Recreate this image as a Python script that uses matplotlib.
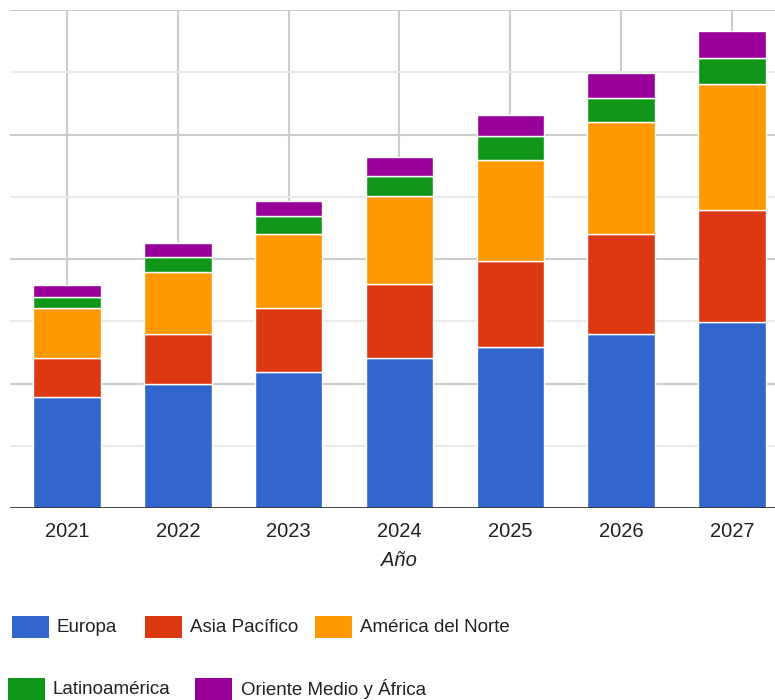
"""
Stacked bars by region, 2021-2027 (Google Charts look)
"""
import matplotlib
matplotlib.use("Agg")
import matplotlib.pyplot as plt
from matplotlib.patches import Rectangle

years = ["2021", "2022", "2023", "2024", "2025", "2026", "2027"]
europa = [1.78, 1.99, 2.19, 2.41, 2.59, 2.80, 2.99]
asia_pacifico = [0.63, 0.80, 1.02, 1.19, 1.38, 1.60, 1.80]
america_norte = [0.80, 1.00, 1.19, 1.41, 1.62, 1.80, 2.02]
latinoamerica = [0.18, 0.24, 0.29, 0.32, 0.38, 0.38, 0.42]
oriente_africa = [0.19, 0.23, 0.24, 0.31, 0.34, 0.41, 0.43]

series_names = ["Europa", "Asia Pacífico", "América del Norte",
                "Latinoamérica", "Oriente Medio y África"]
colors = ["#3366cc", "#dc3912", "#ff9900", "#109618", "#990099"]

plt.rcParams['font.family'] = ['Liberation Sans', 'DejaVu Sans']
W, H = 775, 700
fig = plt.figure(figsize=(W / 100, H / 100), dpi=100)
ax = fig.add_axes([10 / W, (H - 508) / H, (W - 10) / W, (508 - 10) / H])

x = list(range(len(years)))
bottom = [0.0] * len(years)
for vals, col in zip([europa, asia_pacifico, america_norte, latinoamerica, oriente_africa], colors):
    ax.bar(x, vals, width=0.61, bottom=bottom, color=col,
           edgecolor="white", linewidth=1.0, zorder=3)
    bottom = [b + v for b, v in zip(bottom, vals)]

ax.set_ylim(0, 8)
ax.set_xlim(-0.514, 6.388)

# alternating horizontal gridlines, vertical ones at bar centres
ax.set_yticks([2, 4, 6, 8])
ax.set_yticks([1, 3, 5, 7], minor=True)
ax.grid(axis="y", which="major", color="#cccccc", linewidth=1.5, zorder=0)
ax.grid(axis="y", which="minor", color="#ebebeb", linewidth=1.5, zorder=0)
for xi in x:
    ax.axvline(xi, color="#cccccc", linewidth=1.5, zorder=0)
ax.axhline(0, color="#333333", linewidth=2, zorder=4)

ax.set_xticks(x)
ax.set_xticklabels(years, fontsize=14.5, color="#222222")
ax.tick_params(axis="x", length=0, pad=10)
ax.tick_params(axis="y", which="both", length=0, labelleft=False)
for s in ax.spines.values():
    s.set_visible(False)

fig.text(399 / W, 1 - 561 / H, "Año", fontsize=14.5, style="italic",
         color="#222222", ha="center", va="center")

# legend, drawn by hand in two rows
legend_pos = [(12, 57, 627), (145, 190, 627), (315, 360, 627),
              (8, 53, 689), (195, 241, 689)]
for name, col, (px, tx, cy) in zip(series_names, colors, legend_pos):
    fig.patches.append(Rectangle((px / W, 1 - (cy + 11) / H), 37 / W, 22 / H,
                                 transform=fig.transFigure, facecolor=col,
                                 edgecolor="none"))
    fig.text(tx / W, 1 - cy / H, name, fontsize=13.5, color="#222222",
             ha="left", va="center")

fig.savefig("out.png", dpi=100)
